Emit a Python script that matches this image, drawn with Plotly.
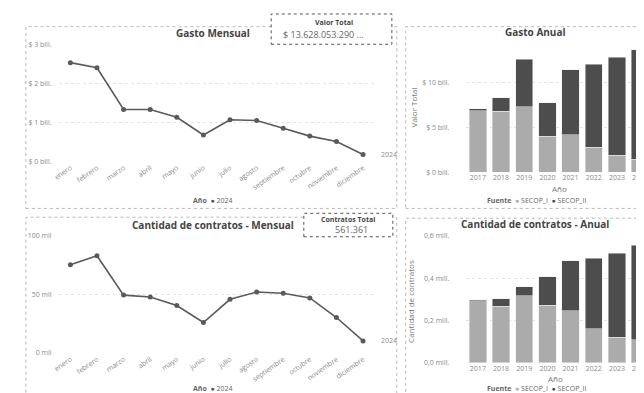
import plotly.graph_objects as go

W, H = 644, 393

# ---- data ----
meses = ["enero", "febrero", "marzo", "abril", "mayo", "junio", "julio",
         "agosto", "septiembre", "octubre", "noviembre", "diciembre"]
gasto_mensual = [2.53, 2.40, 1.33, 1.33, 1.13, 0.68, 1.07, 1.05, 0.85, 0.65, 0.51, 0.18]   # bill.
contratos_mensual = [75.3, 83.0, 49.4, 47.8, 40.5, 26.0, 45.8, 52.0, 51.0, 47.0, 30.3, 10.3]  # mil

anios = ["2017", "2018", "2019", "2020", "2021", "2022", "2023", "2024"]
gasto_secop_i = [6.85, 6.77, 7.30, 4.00, 4.20, 2.80, 1.90, 1.45]     # bill.
gasto_secop_ii = [0.20, 1.50, 5.30, 3.75, 7.20, 9.20, 10.90, 12.20]
contratos_secop_i = [0.294, 0.268, 0.317, 0.272, 0.245, 0.160, 0.121, 0.109]   # mill.
contratos_secop_ii = [0.003, 0.035, 0.043, 0.134, 0.238, 0.334, 0.396, 0.446]

# faint data-label rows above the bar charts (None = not readable / hidden)
gasto_labels = ["(8n bom...", "(8n bom...", "$ 12 bill.", None, "$ 8 bill.", "$ 11 bill.", None, "$ 1..."]
contratos_labels = ["(8n boen...", "(8n boen...", "387,00 mil", "404,00 mil", "481,14 mil", "484,00 mil", None, "5..."]

LIGHT = "#ababab"
DARK = "#4d4d4d"
LINE = "#5a5a5a"
TXT = "#8a8a8a"
FONT = "Open Sans"


def px(x):
    return x / W


def py(y):
    return 1 - y / H


fig = go.Figure()

# ---- line charts (left) ----
fig.add_trace(go.Scatter(x=meses, y=gasto_mensual, mode="lines+markers",
                         line=dict(color=LINE, width=1.6),
                         marker=dict(color=LINE, size=5), xaxis="x", yaxis="y",
                         showlegend=False))
fig.add_trace(go.Scatter(x=meses, y=contratos_mensual, mode="lines+markers",
                         line=dict(color=LINE, width=1.6),
                         marker=dict(color=LINE, size=5), xaxis="x3", yaxis="y3",
                         showlegend=False))

# ---- stacked bars (right) ----
fig.add_trace(go.Bar(x=anios, y=gasto_secop_i, marker_color=LIGHT, xaxis="x2", yaxis="y2",
                     showlegend=False))
fig.add_trace(go.Bar(x=anios, y=gasto_secop_ii, marker_color=DARK, xaxis="x2", yaxis="y2",
                     showlegend=False))
fig.add_trace(go.Bar(x=anios, y=contratos_secop_i, marker_color=LIGHT, xaxis="x4", yaxis="y4",
                     showlegend=False))
fig.add_trace(go.Bar(x=anios, y=contratos_secop_ii, marker_color=DARK, xaxis="x4", yaxis="y4",
                     showlegend=False))

tickfont = dict(family=FONT, size=7, color=TXT)
grid = dict(showgrid=True, gridcolor="#e4e4e4", griddash="dot", gridwidth=1, zeroline=False)

# left axes: month i at 57 + 26.9*i
line_x = dict(domain=[px(45), px(365)], range=[-0.446, 11.45], tickangle=-35,
              tickfont=tickfont, showgrid=False, ticks="", showline=False)
bar_x = dict(domain=[px(457.25), px(640)], range=[-0.5, 7.3], tickfont=tickfont,
             showgrid=False, ticks="", showline=False)

fig.update_layout(
    width=W, height=H, margin=dict(l=0, r=0, t=0, b=0),
    paper_bgcolor="white", plot_bgcolor="white",
    barmode="stack", bargap=0.25,
    font=dict(family=FONT, color=TXT),
    xaxis=dict(**line_x, anchor="y"),
    yaxis=dict(domain=[py(152), py(32)], range=[0, 3], anchor="x",
               tickvals=[0, 1, 2, 3], ticktext=["$ 0 bill.", "$ 1 bill.", "$ 2 bill.", "$ 3 bill."],
               tickfont=tickfont, ticklabelstandoff=6, **grid),
    xaxis3=dict(**line_x, anchor="y3"),
    yaxis3=dict(domain=[py(348), py(228)], range=[0, 100], anchor="x3",
                tickvals=[0, 50, 100], ticktext=["0 mil", "50 mil", "100 mil"],
                tickfont=tickfont, ticklabelstandoff=6, **grid),
    xaxis2=dict(**bar_x, anchor="y2"),
    yaxis2=dict(domain=[py(163), py(30)], range=[0, 14.46], anchor="x2",
                tickvals=[0, 5, 10], ticktext=["$ 0 bill.", "$ 5 bill.", "$ 10 bill."],
                tickfont=tickfont, ticklabelstandoff=16, **grid),
    xaxis4=dict(**bar_x, anchor="y4"),
    yaxis4=dict(domain=[py(358), py(228)], range=[0, 0.6], anchor="x4",
                tickvals=[0, 0.2, 0.4, 0.6], ticktext=["0,0 mill.", "0,2 mill.", "0,4 mill.", "0,6 mill."],
                tickfont=tickfont, ticklabelstandoff=16, **grid),
)

ann = []
shapes = []


def text(x, y, t, size=7, color=TXT, bold=False, angle=0, xanchor="center"):
    ann.append(dict(x=px(x), y=py(y), xref="paper", yref="paper", text=f"<b>{t}</b>" if bold else t,
                    showarrow=False, textangle=angle, xanchor=xanchor, yanchor="middle",
                    font=dict(family=FONT, size=size, color=color)))


# panel borders (dotted)
for x0, y0, x1, y1 in [(12, 14, 387, 200), (396, 14, 648, 200), (12, 209, 387, 397), (396, 210, 648, 397)]:
    shapes.append(dict(type="rect", xref="paper", yref="paper", x0=px(x0), x1=px(x1), y0=py(y1), y1=py(y0),
                       line=dict(color="#b8b8b8", width=1, dash="dot"), layer="below"))

# KPI cards
shapes.append(dict(type="rect", xref="paper", yref="paper", x0=px(260), x1=px(382), y0=py(32), y1=py(1),
                   line=dict(color="#555", width=1, dash="dot"), fillcolor="white"))
shapes.append(dict(type="rect", xref="paper", yref="paper", x0=px(293), x1=px(383), y0=py(229), y1=py(205),
                   line=dict(color="#555", width=1, dash="dot"), fillcolor="white"))
text(324, 10, "Valor Total", size=7, color="#444", bold=True)
text(313, 22, "$ 13.628.053.290 ...", size=9, color="#666")
text(338, 211, "Contratos Total", size=7, color="#444", bold=True)
text(341, 222, "561.361", size=9, color="#666")

# titles
text(201, 20, "Gasto Mensual", size=10, color="#444", bold=True)
text(201, 217, "Cantidad de contratos - Mensual", size=10, color="#444", bold=True)
text(527, 19, "Gasto Anual", size=10, color="#444", bold=True)
text(527, 216, "Cantidad de contratos - Anual", size=10, color="#444", bold=True)

# series end labels
ann.append(dict(x="diciembre", y=gasto_mensual[-1], xref="x", yref="y", text="2024", showarrow=False,
                xshift=26, font=dict(family=FONT, size=7, color=TXT)))
ann.append(dict(x="diciembre", y=contratos_mensual[-1], xref="x3", yref="y3", text="2024", showarrow=False,
                xshift=26, font=dict(family=FONT, size=7, color=TXT)))

# legends
text(201, 192, "<b>Año</b>  <span style='color:#555'>●</span> 2024", size=7, color="#666")
text(201, 384, "<b>Año</b>  <span style='color:#555'>●</span> 2024", size=7, color="#666")
leg = f"<b>Fuente</b>  <span style='color:{LIGHT}'>●</span> SECOP_I  <span style='color:{DARK}'>●</span> SECOP_II"
text(528, 192, leg, size=7, color="#666")
text(528, 384, leg, size=7, color="#666")

# axis titles
text(551, 180, "Año", size=8, color="#777")
text(547, 374, "Año", size=8, color="#777")
text(404, 97, "Valor Total", size=8, color="#777", angle=-90)
text(401, 295, "Cantidad de contratos", size=8, color="#777", angle=-90)

# data-label rows (fixed heights above the plots)
for i, a in enumerate(anios):
    if gasto_labels[i]:
        ann.append(dict(x=a, y=py(32), xref="x2", yref="paper", yanchor="middle", showarrow=False,
                        text=gasto_labels[i], font=dict(family=FONT, size=6, color="#8a8a8a")))
    if contratos_labels[i]:
        ann.append(dict(x=a, y=py(228), xref="x4", yref="paper", yanchor="middle", showarrow=False,
                        text=contratos_labels[i], font=dict(family=FONT, size=6, color="#8a8a8a")))

fig.update_layout(annotations=ann, shapes=shapes)
fig.write_html("out.html")
